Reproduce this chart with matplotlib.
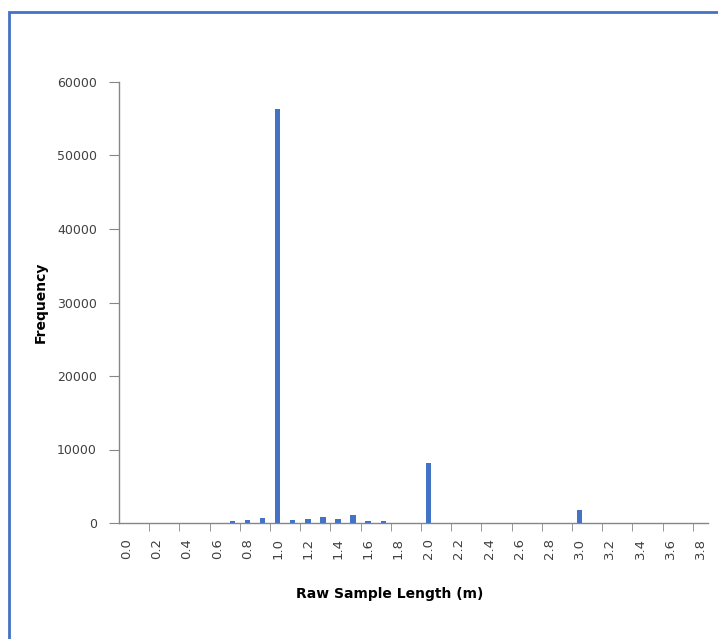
import matplotlib
matplotlib.use("Agg")
import matplotlib.pyplot as plt
from matplotlib.patches import Rectangle
import numpy as np

# Sample length classes (m) and their counts
lengths = [f"{v/10:.1f}" for v in range(0, 39)]
counts = [0, 0, 0, 0, 0, 0, 0, 270, 400, 640,
          56300, 400, 590, 820, 590, 1130, 230, 230, 0, 0,
          8200, 0, 0, 0, 0, 0, 0, 0, 0, 0,
          1800, 0, 0, 0, 0, 0, 0, 0, 0]
y_ticks = [0, 10000, 20000, 30000, 40000, 50000, 60000]

W, H = 718, 639
fig = plt.figure(figsize=(W / 100, H / 100), dpi=100)
plt.rcParams["font.family"] = ["DejaVu Sans"]

# outer chart frame
fig.patches.append(Rectangle((8.5 / W, -0.1), 1.2, 1 - 12.5 / H + 0.1,
                             transform=fig.transFigure, fill=False,
                             edgecolor="#4472C4", linewidth=2.0))

ax = fig.add_axes([119 / W, 1 - 523 / H, (708 - 119) / W, (523 - 82) / H])
pos = np.arange(len(lengths))
ax.bar(pos, counts, width=0.36, color="#4472C4", zorder=3)

ax.set_xlim(-0.5, len(lengths) - 0.5)
ax.set_ylim(0, 60000)

axis_col = "#868686"
for s in ["top", "right"]:
    ax.spines[s].set_visible(False)
for s in ["left", "bottom"]:
    ax.spines[s].set_color(axis_col)
    ax.spines[s].set_linewidth(1.0)

ax.set_yticks(y_ticks)
ax.set_yticklabels([str(v) for v in y_ticks], fontsize=9, color="#404040")
ax.tick_params(axis="y", length=7, color=axis_col, pad=9)

# labels every second class, tick marks on class boundaries
ax.set_xticks(pos[::2])
ax.set_xticklabels(lengths[::2], rotation=90, fontsize=9.5, color="#404040")
ax.tick_params(axis="x", which="major", length=0, pad=11)
ax.set_xticks(np.arange(1.5, len(lengths) - 1, 2), minor=True)
ax.tick_params(axis="x", which="minor", length=6, color=axis_col)

fig.text(390 / W, 1 - 594 / H, "Raw Sample Length (m)", ha="center",
         va="center", fontsize=10, fontweight="bold", color="#000000")
fig.text(41 / W, 1 - 302 / H, "Frequency", ha="center", va="center",
         rotation=90, fontsize=10, fontweight="bold", color="#000000")

fig.savefig("out.png", dpi=100)
